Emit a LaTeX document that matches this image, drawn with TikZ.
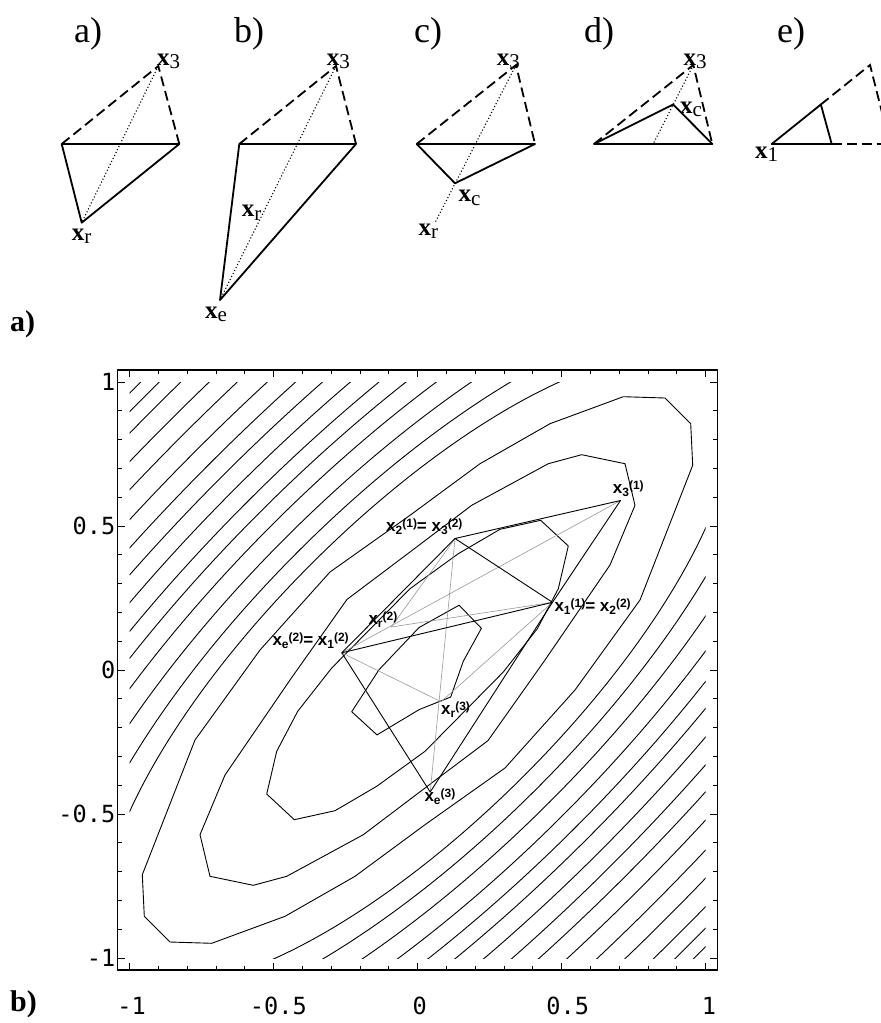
\documentclass[tikz,border=0pt]{standalone}
\usepackage{fontspec}
\setmainfont{Liberation Serif}
\newfontfamily\labsans{Liberation Sans}
\newfontfamily\ticksf{DejaVu Sans Mono}
\newcommand{\vx}[1]{{\fontsize{25}{25}\selectfont\bfseries x}\raisebox{-3.5pt}{\fontsize{21}{21}\selectfont #1}}
\newcommand{\plab}[2]{x\raisebox{-3pt}{\fontsize{12}{12}\selectfont #1}\raisebox{4pt}{\fontsize{12}{12}\selectfont(#2)}}
\begin{document}
\begin{tikzpicture}[x=1pt,y=-1pt,
  sl/.style={line width=1.8pt,line join=round,line cap=round},
  dsh/.style={line width=1.8pt,dash pattern=on 10pt off 5pt},
  dtt/.style={line width=1.1pt,dash pattern=on 1.1pt off 2.2pt},
  ctr/.style={line width=0.9pt,line join=round},
  spx/.style={line width=0.9pt,line join=round},
  gry/.style={line width=0.6pt,black!40},
  tl/.style={inner sep=0pt,anchor=base west},
  ttl/.style={tl,font=\fontsize{36}{36}\selectfont},
  bl/.style={tl,font=\fontsize{30}{30}\selectfont\bfseries},
  pl/.style={tl,font=\labsans\bfseries\fontsize{17}{17}\selectfont},
  tk/.style={inner sep=0pt,font=\ticksf\fontsize{23.6}{23.6}\selectfont}
]
\useasboundingbox (0,0) rectangle (881,1023);
\fill[white] (0,0) rectangle (881,1023);

% ---------- panel a
\coordinate (aL) at (61.7,144); \coordinate (aR) at (179.3,144);
\coordinate (aT) at (158.3,66); \coordinate (aX) at (81.7,222.7);
\draw[dsh] (aL) -- (aT) -- (aR);
\draw[sl] (aL) -- (aR) -- (aX) -- cycle;
\draw[dtt] (aT) -- (aX);
\node[ttl] (ta) at (74,42) {a)};
\node[tl] (la3) at (157,65) {\vx{3}};
\node[tl] (lar) at (71.7,240) {\vx{r}};

% ---------- panel b
\coordinate (bL) at (239.3,144); \coordinate (bR) at (356,144);
\coordinate (bT) at (336,66); \coordinate (bE) at (220,300);
\draw[dsh] (bL) -- (bT) -- (bR);
\draw[sl] (bL) -- (bR) -- (bE) -- cycle;
\draw[dtt] (bT) -- (bE);
\node[ttl] (tb) at (234,42) {b)};
\node[tl] (lb3) at (326.7,65) {\vx{3}};
\node[tl] (lbr) at (241.7,216.7) {\vx{r}};
\node[tl] (lbe) at (205,318.3) {\vx{e}};

% ---------- panel c
\coordinate (cL) at (416.7,144); \coordinate (cR) at (535,144);
\coordinate (cT) at (516,65); \coordinate (cC) at (455,183.3);
\coordinate (cX) at (435,222.7);
\draw[dsh] (cL) -- (cT) -- (cR);
\draw[sl] (cL) -- (cR) -- (cC) -- cycle;
\draw[dtt] (cT) -- (cX);
\node[ttl] (tc) at (414,42) {c)};
\node[tl] (lc3) at (496.7,65) {\vx{3}};
\node[tl] (lcc) at (458.3,201.7) {\vx{c}};
\node[tl] (lcr) at (418.3,235) {\vx{r}};

% ---------- panel d
\coordinate (dL) at (594,144); \coordinate (dR) at (712.3,144);
\coordinate (dT) at (693.3,65); \coordinate (dC) at (673.2,104.5);
\coordinate (dM) at (653.15,144);
\draw[dsh] (dL) -- (dT) -- (dR);
\draw[sl] (dL) -- (dR) -- (dC) -- cycle;
\draw[dtt] (dT) -- (dM);
\node[ttl] (td) at (584,42) {d)};
\node[tl] (ld3) at (683.3,65) {\vx{3}};
\node[tl] (ldc) at (680,113.3) {\vx{c}};

% ---------- panel e
\coordinate (eX) at (771.7,144); \coordinate (eM1) at (820.85,104.5);
\coordinate (eM2) at (831.7,144); \coordinate (eT) at (870,65);
\coordinate (eR) at (890,144);
\begin{scope}
\clip (0,0) rectangle (881,1023);
\draw[sl] (eM1) -- (eX) -- (eM2) -- cycle;
\draw[dsh] (eM1) -- (eT) -- (eR);
\draw[dsh] (eM2) -- (eR);
\end{scope}
\node[ttl] (te) at (777,42) {e)};
\node[tl] (le1) at (755,158.3) {\vx{1}};

% ---------- side labels
\node[bl] (sideA) at (10,331.5) {a)};
\node[bl] (sideB) at (10,1011) {b)};

% ---------- plot
\begin{scope}[shift={(417.5,670)},x=288pt,y=288pt]
  \begin{scope}
    \clip (-1,-1) rectangle (1,1);
    \foreach \s in {0.737,0.826,0.917,1.009,1.095,1.175,1.263,1.351,1.438,1.531,1.631,1.726,1.823,1.897,1.961}
      \draw[ctr,rotate=45] (0,0) ellipse [x radius={1.975*\s}, y radius={0.7071*\s}];
  \end{scope}
  % ticks
  \foreach \i in {-10,...,10}{
    \pgfmathsetmacro{\t}{\i/10}
    \pgfmathsetmacro{\len}{ifthenelse(mod(abs(\i),5)==0,0.026,0.014)}
    \draw[line width=0.8pt] (\t,-1.0417) -- ++(0,\len);
    \draw[line width=0.8pt] (\t,1.0417) -- ++(0,-\len);
    \draw[line width=0.8pt] (-1.0417,\t) -- ++(\len,0);
    \draw[line width=0.8pt] (1.0417,\t) -- ++(-\len,0);
  }
  \draw[line width=1.3pt] (-1.0417,-1.0417) rectangle (1.0417,1.0417);
\end{scope}

% closed contours (pixel coordinates)
\draw[ctr] (459.1,605.2) -- (481.4,628.3) -- (463.3,661.2) -- (450.7,697.0) -- (419.1,709.6)
  -- (377.0,734.9) -- (351.7,711.7) -- (379.1,669.6) -- (419.1,627.5) -- cycle;
\draw[ctr] (568.3,546) -- (540.7,520.3) -- (500,529.3) -- (458.3,553.7) -- (410,588.7)
  -- (331.7,668) -- (297.7,711.3) -- (276.7,751.3) -- (266.7,794) -- (294.3,819.7)
  -- (335,810.7) -- (376.7,786.3) -- (425,751.3) -- (503.3,672) -- (537.3,628.7)
  -- (558.3,588.7) -- cycle;
\draw[ctr] (200,834.7) -- (210,876.3) -- (253.3,885.3) -- (286.7,876.3) -- (363.3,834.7)
  -- (425,788) -- (488,740.6) -- (545,660) -- (610,565) -- (635,505.3) -- (625,463.7)
  -- (581.7,454.7) -- (548.3,463.7) -- (471.7,505.3) -- (410,552) -- (347,599.4)
  -- (290,680) -- (225,775) -- cycle;
\draw[ctr] (142.3,874.7) -- (144.3,916.3) -- (170,942) -- (211.7,943.3) -- (285,916.3)
  -- (355,876.3) -- (425,824.7) -- (505,768) -- (575,690) -- (640,600) -- (692.7,465.3)
  -- (690.7,423.7) -- (665,398) -- (623.3,396.7) -- (550,423.7) -- (480,463.7)
  -- (410,515.3) -- (330,572) -- (260,650) -- (195,740) -- cycle;

% simplex points
\coordinate (s3a) at (620.5,500.5);
\coordinate (s2a) at (455,538.5);
\coordinate (s1a) at (552.5,602.3);
\coordinate (s1b) at (341.8,652.8);
\coordinate (srb) at (391.3,627);
\coordinate (src) at (441,701.7);
\coordinate (sec) at (430.2,792);
\draw[gry] (s3a) -- (s1b);
\draw[gry] (s2a) -- (srb) -- (s1a);
\draw[gry] (s2a) -- (sec);
\draw[gry] (s1b) -- (src) -- (s1a);
\draw[spx] (s3a) -- (s2a) -- (s1a) -- cycle;
\draw[spx] (s1a) -- (s1b) -- (s2a);
\draw[spx] (s1b) -- (sec) -- (s1a);

\node[pl] (p31) at (612.7,493.3) {\plab{3}{1}};
\node[pl] (p2132) at (386,531.7) {\plab{2}{1}= \plab{3}{2}};
\node[pl] (p1122) at (554.3,611) {\plab{1}{1}= \plab{2}{2}};
\node[pl] (pr2) at (368.3,624.3) {\plab{r}{2}};
\node[pl] (pe2) at (272.3,645) {\plab{e}{2}= \plab{1}{2}};
\node[pl] (pr3) at (441,714) {\plab{r}{3}};
\node[pl] (pe3) at (424.3,801.3) {\plab{e}{3}};

% tick labels
\node[tk,anchor=base] (xm1) at (131.7,1014) {-1};
\node[tk,anchor=base] (xm05) at (278.3,1014) {-0.5};
\node[tk,anchor=base] (x0) at (419.8,1014) {0};
\node[tk,anchor=base] (x05) at (567.8,1014) {0.5};
\node[tk,anchor=base] (x1) at (709,1014) {1};
\node[tk,anchor=east] (y1) at (115.5,382) {1};
\node[tk,anchor=east] (y05) at (115.5,526) {0.5};
\node[tk,anchor=east] (y0) at (115.5,670) {0};
\node[tk,anchor=east] (ym05) at (115.5,814) {-0.5};
\node[tk,anchor=east] (ym1) at (115.5,958) {-1};
\end{tikzpicture}
\end{document}
